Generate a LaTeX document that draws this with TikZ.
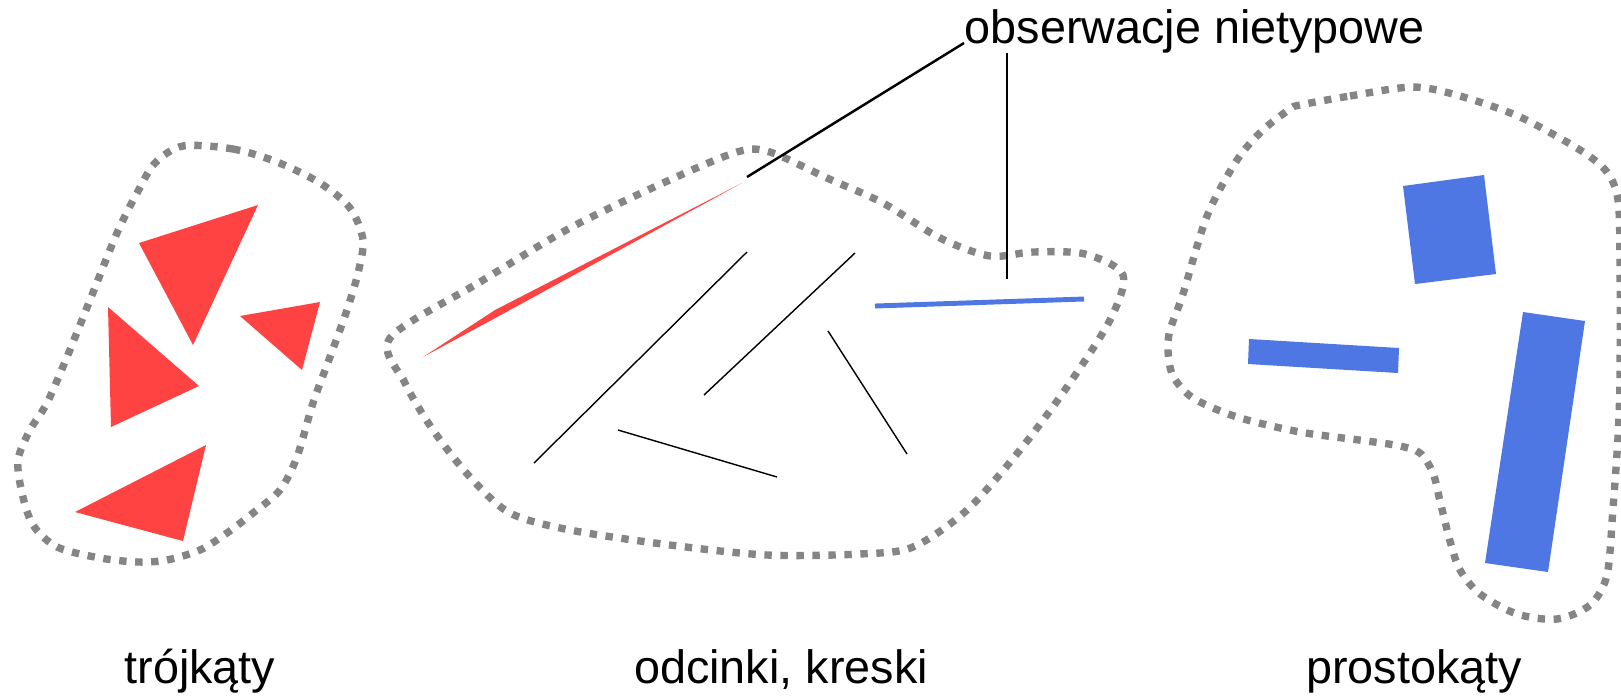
\documentclass[tikz,border=0pt]{standalone}
\usepackage{fontspec}
\setmainfont{Liberation Sans}
\definecolor{trojred}{HTML}{FF4242}
\definecolor{prostblue}{HTML}{4F77E3}
\definecolor{obrysgray}{HTML}{858585}
\tikzset{
  obrys/.style={draw=obrysgray,line width=2.1pt,dash pattern=on 2.1pt off 2.45pt},
  podpis/.style={font=\fontsize{13.3}{15}\selectfont,inner sep=0pt,anchor=base},
  odcinek/.style={line width=0.4pt},
  wskaz/.style={line width=0.7pt},
}
\begin{document}
\begin{tikzpicture}[x=0.01cm,y=-0.01cm]
  \useasboundingbox (0,0) rectangle (1621,699);

  % obrysy grup
  \draw[obrys] plot[smooth cycle] coordinates {(183,146) (233,149) (277,162) (320,183) (350,208) (363,240) (358,273) (347,310) (330,357) (313,403) (297,457) (280,490) (253,513) (227,533) (200,550) (167,560) (138,562) (100,558) (57,547) (33,525) (22,493) (18,460) (30,430) (47,403) (67,357) (90,300) (117,233) (137,193) (155,163)};
  \draw[obrys] plot[smooth cycle] coordinates {(390,338) (480,282) (570,228) (663,183) (737,152) (770,152) (827,178) (883,203) (940,238) (990,256) (1033,252) (1085,254) (1123,275) (1110,320) (1067,387) (1020,450) (967,510) (913,547) (860,554) (767,555) (670,545) (570,530) (510,513) (470,477) (433,430) (405,383)};
  \draw[obrys] plot[smooth cycle] coordinates {(1300,105) (1350,96) (1413,87) (1460,96) (1520,117) (1580,150) (1607,172) (1618,200) (1620,260) (1620,376) (1618,437) (1613,508) (1607,575) (1590,605) (1557,619) (1517,614) (1480,594) (1460,570) (1450,541) (1440,501) (1433,473) (1420,453) (1400,446) (1367,441) (1300,432) (1237,417) (1193,398) (1173,376) (1168,351) (1170,330) (1183,294) (1207,216) (1237,160) (1263,130) (1290,109)};

  % trójkąty
  \fill[trojred] (139,243) -- (258,205) -- (193,345) -- cycle;
  \fill[trojred] (108,307) -- (199,386) -- (111,427) -- cycle;
  \fill[trojred] (240,316) -- (320,302) -- (302,370) -- cycle;
  \fill[trojred] (75,512) -- (206,445) -- (183,541) -- cycle;

  % odcinki
  \draw[odcinek] (534,463) -- (747,252);
  \draw[odcinek] (704,395) -- (855,253);
  \draw[odcinek] (618,430) -- (777,477);
  \draw[odcinek] (828,331) -- (907,454);

  % obserwacje nietypowe
  \fill[trojred] (423,357) -- (495,310) -- (742,183) -- (499,316) -- cycle;
  \draw[prostblue,line width=1.4pt] (875,306) -- (1084,299);

  % prostokąty
  \fill[prostblue] (1403,186) -- (1484,175) -- (1496,274) -- (1415,284) -- cycle;
  \fill[prostblue] (1249,339) -- (1399,348) -- (1398,373) -- (1248,364) -- cycle;
  \fill[prostblue] (1523,312) -- (1585,321) -- (1548,572) -- (1485,563) -- cycle;

  % podpisy
  \node[podpis] (trojkaty) at (200,683) {trójkąty};
  \node[podpis] (odcinki) at (781,683) {odcinki, kreski};
  \node[podpis] (prostokaty) at (1414,683) {prostokąty};
  \node[podpis,anchor=base west] (nietypowe) at (964,43) {obserwacje nietypowe};

  % linie wskazujące
  \coordinate (czerwona) at (747,177);
  \coordinate (niebieska) at (1007,279);
  \draw[wskaz] (nietypowe.base west) -- (czerwona);
  \draw[wskaz] (nietypowe.south -| niebieska) -- (niebieska);
\end{tikzpicture}
\end{document}
